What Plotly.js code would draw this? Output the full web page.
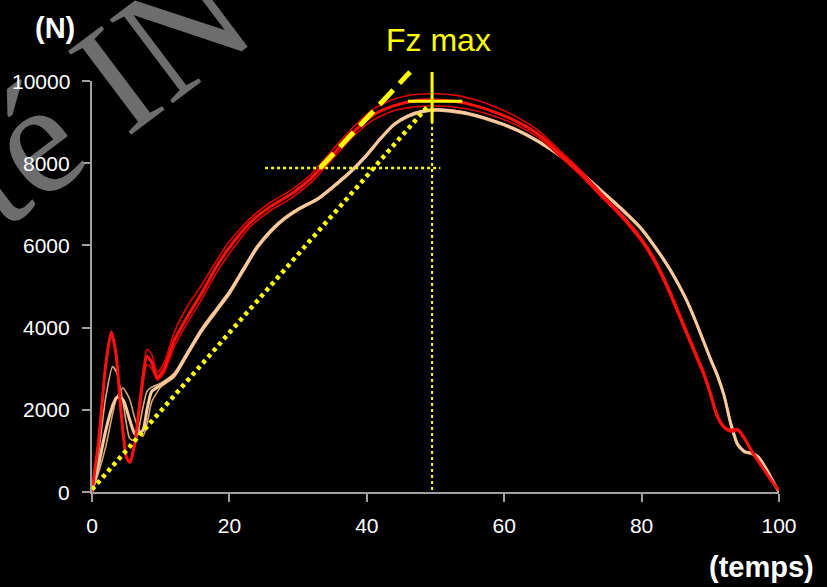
<!DOCTYPE html>
<html>
<head>
<meta charset="utf-8">
<script src="https://cdn.plot.ly/plotly-3.0.1.min.js"></script>
<style>html,body{margin:0;padding:0;background:#000;}#chart{width:827px;height:587px;}</style>
</head>
<body>
<div id="chart"></div>
<script>
// ---- data ----
const xTickVals = [0, 20, 40, 60, 80, 100];
const yTickVals = [0, 2000, 4000, 6000, 8000, 10000];
const yTickText = ['0', '2000', '4000', '6000', '8000', '10000'];

// time grid (red series)
const xRed = [0,1,2,2.8,3.5,4.2,5,5.5,6.2,7,8,8.7,9.5,10.5,12,14,16,18,20,23,26,29,32,35,38,41,44,47,50,53,56,59,62,65,68,71,74,77,80,82,84,86,88,89,90,91,92,93,94,95,96,97,98,99,100];
const red1 = [0,1300,3100,3890,3350,2000,850,720,1150,2200,
  3300,3150,2780,3000,3700,4300,4850,5450,5950,6550,
  6950,7250,7650,8200,8750,9180,9400,9520,9540,9500,
  9390,9220,9000,8700,8250,7780,7250,6730,6130,5600,
  4900,4100,3300,2900,2400,1850,1580,1490,1520,1300,
  1000,750,500,250,40];
const red2 = [0,1300,3100,3890,3350,2000,850,720,1150,2350,
  3470,3350,2900,3150,3900,4550,5050,5600,6100,6650,
  7050,7350,7750,8320,8870,9320,9560,9670,9690,9650,
  9530,9350,9110,8790,8320,7850,7300,6780,6180,5650,
  4960,4160,3360,2950,2450,1900,1610,1520,1540,1320,
  1020,760,510,260,50];
const red3 = [0,1300,3100,3890,3350,2000,850,720,1150,2100,
  3100,3000,2720,2900,3550,4150,4700,5300,5800,6450,
  6850,7150,7550,8100,8650,9060,9280,9370,9390,9360,
  9270,9120,8910,8620,8180,7720,7200,6690,6080,5540,
  4840,4040,3240,2840,2340,1800,1550,1460,1490,1270,
  980,730,490,240,30];

// time grid (peach series)
const xPeach = [0,1,2,3,3.6,4.5,5.5,6.3,7.4,8,8.7,10,12,14,16,18,20,22,24,26,28,30,33,36,38,40,42,44,46,48,50,52,55,59,62,65,68,71,74,77,80,82,84,86,87,88,90,91,92,93,94,95,96,97,98,99,100];
const peach1 = [0,700,1500,2100,2300,2250,1750,1400,1500,2000,
  2450,2600,2850,3400,3950,4400,4850,5400,5950,6350,
  6650,6880,7150,7550,7850,8200,8600,8950,9150,9260,
  9300,9280,9200,9000,8800,8530,8200,7800,7350,6900,
  6400,5950,5450,4850,4500,4100,3250,2850,2350,1650,
  1150,980,940,850,600,300,0];
const peach2 = [0,1000,2300,3050,2900,2200,1300,1250,2050,2450,
  2550,2650,2900,3450,4000,4450,4900,5450,5980,6380,
  6680,6900,7170,7580,7880,8230,8620,8960,9170,9280,
  9320,9300,9210,9010,8810,8550,8220,7820,7370,6920,
  6420,5980,5480,4880,4530,4130,3280,2880,2380,1700,
  1180,1000,960,870,620,320,0];
const peach3 = [0,500,1100,1900,2300,2530,2250,1750,1350,1650,
  2200,2550,2800,3350,3900,4350,4800,5350,5900,6300,
  6620,6850,7120,7520,7820,8170,8570,8920,9120,9230,
  9270,9250,9170,8970,8770,8500,8170,7770,7320,6870,
  6370,5920,5420,4820,4470,4070,3220,2820,2320,1600,
  1120,960,920,830,580,280,0];

// Fz max construction (data units)
const fzMax = [49.5, 9510];           // x, N
const crossV = [8980, 10220];         // vertical bar extent (N)
const crossH = [46, 53.9];            // horizontal bar extent (time)
const tangent = [[33.2, 7883], [46.3, 10220]];
const levelLine = [25.2, 50.7, 7883];
const diagonal = [[0, 60], [48.8, 9370]];
const yMax = 10000;

// ---- traces ----
const Y = '#ffff00';
function tr(x, y, color, width) {
  return {x: x, y: y, mode: 'lines', type: 'scatter',
    line: {color: color, width: width, shape: 'spline', smoothing: 0.6},
    hoverinfo: 'skip', showlegend: false};
}
const traces = [
  tr(xPeach, peach3, '#d4a373', 1.6),
  tr(xPeach, peach2, '#d8a97c', 1.6),
  tr(xPeach, peach1, '#fbc99e', 3),
  tr(xRed, red3, '#dd0000', 1.6),
  tr(xRed, red2, '#e00000', 1.6),
  tr(xRed, red1, '#ff1010', 3)
];

const P = v => v / yMax;  // N -> paper fraction (range starts at 0)

const shapes = [
  {type:'line', xref:'x', yref:'paper', x0:diagonal[0][0], y0:P(diagonal[0][1]), x1:diagonal[1][0], y1:P(diagonal[1][1]),
   line:{color:Y, width:4.5, dash:'4px,4px'}},
  {type:'line', xref:'x', yref:'paper', x0:levelLine[0], x1:levelLine[1], y0:P(levelLine[2]), y1:P(levelLine[2]),
   line:{color:Y, width:2.5, dash:'3px,3px'}},
  {type:'line', xref:'x', yref:'paper', x0:fzMax[0], x1:fzMax[0], y0:0.005, y1:P(crossV[0]),
   line:{color:Y, width:2, dash:'3px,3px'}},
  {type:'line', xref:'x', yref:'paper', x0:tangent[0][0], y0:P(tangent[0][1]), x1:tangent[1][0], y1:P(tangent[1][1]),
   line:{color:Y, width:5, dash:'20px,9px'}},
  {type:'line', xref:'x', yref:'paper', x0:fzMax[0], x1:fzMax[0], y0:P(crossV[0]), y1:P(crossV[1]),
   line:{color:Y, width:3}},
  {type:'line', xref:'x', yref:'paper', x0:crossH[0], x1:crossH[1], y0:P(fzMax[1]), y1:P(fzMax[1]),
   line:{color:Y, width:3}}
];

const tickFont = {family:'Liberation Sans, Arial, sans-serif', size:21, color:'#ffffff'};

const annotations = [
  {text:'ité IN', xref:'paper', yref:'paper', x:-0.0146, y:0.944, xanchor:'center', yanchor:'middle',
   showarrow:false, textangle:-37,
   font:{family:'Liberation Serif, Times New Roman, serif', size:160, color:'rgba(128,128,128,0.85)'}},
  {text:'(N)', xref:'paper', yref:'paper', x:-0.054, y:1.129, xanchor:'center', yanchor:'middle', showarrow:false,
   font:{family:'Liberation Sans, Arial, sans-serif', size:29, color:'#ffffff', weight:'bold'}},
  {text:'(temps)', xref:'paper', yref:'paper', x:0.975, y:-0.182, xanchor:'center', yanchor:'middle', showarrow:false,
   font:{family:'Liberation Sans, Arial, sans-serif', size:29, color:'#ffffff', weight:'bold'}},
  {text:'Fz max', xref:'x', yref:'paper', x:fzMax[0] + 1, y:1.10, xanchor:'center', yanchor:'middle', showarrow:false,
   font:{family:'Liberation Sans Narrow, Arial Narrow, Liberation Sans, sans-serif', size:32, color:Y}}
];
// y tick labels drawn after the watermark so they sit on top of it
yTickVals.forEach((v, i) => {
  annotations.push({text: yTickText[i], xref:'paper', yref:'y', x:-0.029, y:v,
    xanchor:'right', yanchor:'middle', showarrow:false, font:tickFont});
});

const axisCommon = {
  showgrid:false, zeroline:false, showline:true, linecolor:'#a0a0a0', linewidth:2,
  ticks:'outside', ticklen:8, tickwidth:2, tickcolor:'#a0a0a0',
  tickfont:tickFont, fixedrange:true
};

const layout = {
  width:827, height:587,
  paper_bgcolor:'#000000', plot_bgcolor:'#000000',
  margin:{l:92, r:48, t:81, b:95},
  xaxis:Object.assign({}, axisCommon, {range:[0,100], tickmode:'array', tickvals:xTickVals, ticklabelstandoff:6}),
  yaxis:Object.assign({}, axisCommon, {range:[0,yMax], tickmode:'array', tickvals:yTickVals, ticktext:yTickText, showticklabels:false}),
  shapes:shapes,
  annotations:annotations,
  showlegend:false
};

Plotly.newPlot('chart', traces, layout, {displayModeBar:false, staticPlot:true});
</script>
</body>
</html>
